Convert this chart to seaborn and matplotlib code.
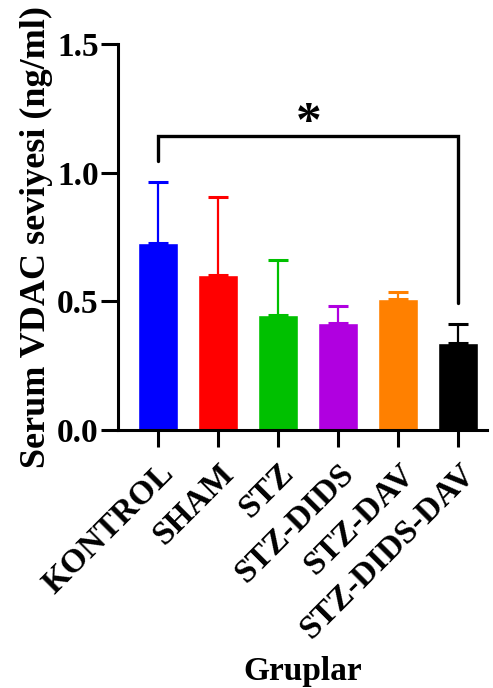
import matplotlib
matplotlib.use("Agg")
import matplotlib.pyplot as plt
import seaborn as sns
import pandas as pd

# data
groups = ["KONTROL", "SHAM", "STZ", "STZ-DIDS", "STZ-DAV", "STZ-DIDS-DAV"]
means = [0.727, 0.602, 0.446, 0.415, 0.510, 0.337]
errors = [0.236, 0.302, 0.216, 0.068, 0.026, 0.075]
colors = ["#0000ff", "#ff0000", "#00c000", "#b000e0", "#ff8000", "#000000"]

sns.set_style("ticks")
plt.rcParams["font.family"] = ["Liberation Serif", "DejaVu Serif"]
plt.rcParams["font.weight"] = "bold"
for k in ["text.color", "axes.labelcolor", "xtick.color", "ytick.color",
          "axes.edgecolor"]:
    plt.rcParams[k] = "black"

df = pd.DataFrame({"grup": groups, "deger": means})

fig = plt.figure(figsize=(4.93, 6.88), dpi=100)
ax = fig.add_axes([0.2394, 0.375, 0.7486, 0.561])

sns.barplot(data=df, x="grup", y="deger", hue="grup", palette=colors,
            legend=False, width=0.667, errorbar=None, saturation=1, ax=ax)

# one-sided error bars (SD upward)
for i, (m, e, c) in enumerate(zip(means, errors, colors)):
    ax.errorbar(i, m, yerr=[[0], [e]], fmt="none", ecolor=c,
                elinewidth=1.6, capsize=7, capthick=2.2, zorder=1)

# significance bracket KONTROL vs STZ-DIDS-DAV
ax.plot([0, 0, 5, 5], [1.047, 1.143, 1.143, 0.495], color="black",
        lw=2.4, solid_joinstyle="miter", clip_on=False)
ax.text(2.5, 1.10, "*", ha="center", va="bottom", fontsize=37,
        fontweight="bold")

ax.set_ylim(0, 1.5)
ax.set_xlim(-0.67, 5.48)
ax.set_yticks([0, 0.5, 1.0, 1.5])
ax.set_yticklabels(["0.0", "0.5", "1.0", "1.5"])
ax.set_xticks(range(len(groups)))
ax.set_xticklabels(groups, rotation=45, ha="right", rotation_mode="anchor")
ax.tick_params(axis="both", width=2.2, length=12, labelsize=24, pad=2)
ax.tick_params(axis="x", pad=8)
for lab in ax.get_xticklabels() + ax.get_yticklabels():
    lab.set_fontweight("bold")

for s in ["top", "right"]:
    ax.spines[s].set_visible(False)
for s in ["left", "bottom"]:
    ax.spines[s].set_linewidth(2.2)

ax.set_ylabel("Serum VDAC seviyesi (ng/ml)", fontsize=26, fontweight="bold",
              labelpad=3)
ax.set_xlabel("Gruplar", fontsize=24, fontweight="bold", labelpad=8)

fig.savefig("out.png", dpi=100)
